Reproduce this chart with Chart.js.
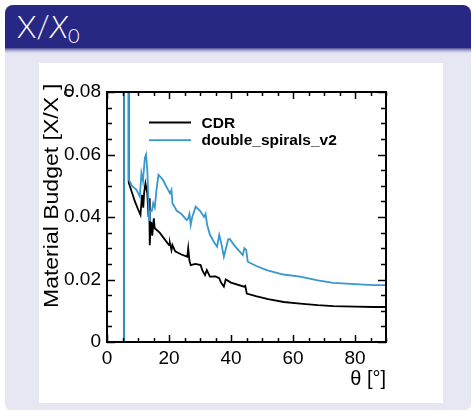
<!DOCTYPE html>
<html lang="en">

<head>
  <meta charset="UTF-8">
  <title>X/X0</title>
  <style>
    html,
    body {
      margin: 0;
      width: 472px;
      height: 411px;
      background: #fff;
      overflow: hidden;
      position: relative;
    }

    #head {
      position: absolute;
      left: 5px;
      top: 5px;
      width: 466px;
      height: 43px;
      background: #272784;
      border-radius: 8px 8px 0 0;
      color: #fff;
      font-family: Lato, "Open Sans", sans-serif;
      font-weight: 300;
      font-size: 31px;
    }

    #head span {
      position: absolute;
      left: 12px;
      top: 2px;
    }

    #head sub {
      font-size: 20px;
      vertical-align: -5px;
    }

    #body {
      position: absolute;
      left: 5px;
      top: 48px;
      width: 466px;
      height: 362px;
      background: linear-gradient(#4d4d98 0px, #9c9cc8 2px, #d4d4ea 4px, #e7e7f3 6px);
      border-radius: 0 0 6px 6px;
    }

    #panel {
      position: absolute;
      left: 39px;
      top: 63px;
      width: 404px;
      height: 340px;
      background: #fff;
    }
  </style>
</head>

<body>
  <div id="head"><span>X/<i>X</i><sub>0</sub></span></div>
  <div id="body"></div>
  <div id="panel"><canvas id="myChart" width="404" height="340"></canvas></div>
  <script src="https://cdnjs.cloudflare.com/ajax/libs/Chart.js/4.4.0/chart.umd.min.js"></script>
  <script>
    const xTicks = [0, 20, 40, 60, 80]
    const yTicks = [0, 0.02, 0.04, 0.06, 0.08]

    // CDR
    const cdrTheta = [5.5, 5.5, 7.0, 7.0, 8.0, 9.0, 10.0, 10.8, 11.3, 11.7, 12.0, 12.4, 13.0, 13.4, 13.6, 13.8, 14.0,
      14.3, 14.6, 15.1, 15.4, 17.0, 18.5, 20.0, 20.3, 20.8, 21.1, 22.0, 24.0, 25.9, 26.2, 26.6, 27.0, 28.5, 30.2, 30.8,
      31.6, 32.2, 33.2, 35.0, 36.2, 36.8, 37.7, 38.3, 40.0, 44.2, 44.6, 45.1, 48, 52, 57, 62.3, 68, 73, 80, 86, 90]
    const cdrValues = [0, 0.3, 0.3, 0.051, 0.048, 0.045, 0.0425, 0.0407, 0.0471, 0.043, 0.048, 0.0508, 0.0476, 0.040,
      0.046, 0.031, 0.036, 0.0385, 0.034, 0.0396, 0.0364, 0.035, 0.033, 0.031, 0.0316, 0.0294, 0.031, 0.029, 0.028,
      0.0273, 0.030, 0.026, 0.0246, 0.025, 0.0246, 0.0228, 0.0214, 0.023, 0.0209, 0.021, 0.0204, 0.019, 0.0177, 0.020,
      0.019, 0.0177, 0.018, 0.0155, 0.0147, 0.0137, 0.0128, 0.0123, 0.0118, 0.0115, 0.0113, 0.0112, 0.0112]

    // double_spirals_v2
    const dsTheta = [5.5, 5.5, 7.0, 7.0, 8.0, 9.5, 10.6, 11.1, 11.6, 12.2, 12.6, 13.0, 13.6, 13.8, 14.5, 14.9, 15.4,
      16.0, 16.6, 18.0, 19.0, 19.7, 20.3, 20.8, 21.1, 22.5, 24.0, 25.7, 26.2, 26.6, 27.0, 27.5, 28.6, 30.0, 31.3, 31.8,
      32.3, 33.2, 34.5, 35.5, 36.2, 37.0, 37.7, 39.1, 39.6, 41.0, 43.8, 44.3, 44.9, 45.4, 48, 51.5, 56.9, 62.3, 68,
      73.0, 80, 86, 90]
    const dsValues = [0, 0.3, 0.3, 0.052, 0.050, 0.0487, 0.0465, 0.054, 0.0514, 0.0589, 0.060, 0.055, 0.039, 0.0417,
      0.042, 0.0444, 0.043, 0.049, 0.0535, 0.052, 0.050, 0.0487, 0.0476, 0.0487, 0.0444, 0.042, 0.041, 0.039, 0.0396,
      0.041, 0.0375, 0.040, 0.0433, 0.042, 0.040, 0.041, 0.0375, 0.0343, 0.032, 0.0305, 0.0343, 0.031, 0.0273, 0.0329,
      0.033, 0.031, 0.0278, 0.030, 0.0295, 0.0257, 0.0244, 0.023, 0.0216, 0.0209, 0.0197, 0.0189, 0.0185, 0.0182,
      0.0182]

    const toPoints = (xs, ys) => xs.map((x, i) => ({ x: x, y: ys[i] }))

    const rootFrame = {
      id: 'rootFrame',
      afterDatasetsDraw(chart) {
        const { ctx, chartArea: a, scales: { x, y } } = chart
        ctx.save()
        ctx.strokeStyle = '#000'
        ctx.lineWidth = 1.5
        const seg = (x1, y1, x2, y2) => {
          ctx.beginPath()
          ctx.moveTo(x1, y1)
          ctx.lineTo(x2, y2)
          ctx.stroke()
        }
        for (let v = 0; v <= 90; v += 5) {
          const px = Math.round(x.getPixelForValue(v)) + 0.5
          const len = v % 20 === 0 ? 7 : 4
          seg(px, a.bottom, px, a.bottom - len)
          seg(px, a.top, px, a.top + len)
        }
        for (let i = 0; i <= 16; i++) {
          const py = Math.round(y.getPixelForValue(i * 0.005)) + 0.5
          const len = i % 4 === 0 ? 8 : 5
          seg(a.left, py, a.left + len, py)
          seg(a.right, py, a.right - len, py)
        }
        ctx.lineWidth = 2
        ctx.strokeRect(a.left, a.top, a.right - a.left, a.bottom - a.top)

        // legend
        ctx.lineWidth = 1.8
        ctx.font = 'bold 15.5px "Liberation Sans", Arial, sans-serif'
        ctx.textBaseline = 'middle'
        chart.data.datasets.forEach((ds, i) => {
          const ly = 59.5 + i * 17.7
          ctx.strokeStyle = ds.borderColor
          seg(110, ly, 152, ly)
          ctx.fillStyle = '#000'
          ctx.fillText(ds.label, 162.5, ly + 1)
        })

        // axis titles
        ctx.fillStyle = '#000'
        ctx.font = '20px "Liberation Sans", Arial, sans-serif'
        ctx.textAlign = 'right'
        ctx.fillText('θ [°]', a.right, 316)

        ctx.save()
        ctx.translate(18.5, 34)
        ctx.rotate(-Math.PI / 2)
        ctx.scale(1.18, 1)
        ctx.textBaseline = 'alphabetic'
        ctx.font = '19.5px "Liberation Sans", Arial, sans-serif'
        ctx.fillText('Material Budget [X/X', 0, 0)
        ctx.textAlign = 'left'
        ctx.font = '13px "Liberation Sans", Arial, sans-serif'
        ctx.fillText('0', 0, 15)
        ctx.font = '19.5px "Liberation Sans", Arial, sans-serif'
        ctx.fillText(']', 6, 0)
        ctx.restore()
        ctx.restore()
      }
    }

    function drawChart() {
      const context = document.querySelector('#myChart').getContext('2d')
      new Chart(context, {
        type: 'line',
        data: {
          datasets: [
            {
              label: 'CDR',
              borderColor: '#000000',
              borderWidth: 1.8,
              pointRadius: 0,
              tension: 0,
              order: 1,
              data: toPoints(cdrTheta, cdrValues)
            },
            {
              label: 'double_spirals_v2',
              borderColor: '#3798d0',
              borderWidth: 1.8,
              pointRadius: 0,
              tension: 0,
              order: 0,
              data: toPoints(dsTheta, dsValues)
            }
          ]
        },
        options: {
          responsive: false,
          animation: false,
          layout: { padding: { top: 29, right: 57, left: 0, bottom: 0 } },
          plugins: { legend: { display: false }, tooltip: { enabled: false } },
          scales: {
            x: {
              type: 'linear',
              min: 0,
              max: 90,
              afterBuildTicks: s => { s.ticks = xTicks.map(v => ({ value: v })) },
              afterFit: s => { s.height = 61 },
              grid: { display: false, drawTicks: false },
              border: { display: false },
              ticks: {
                color: '#000',
                padding: 5,
                maxRotation: 0,
                font: { family: '"Liberation Sans", Arial, sans-serif', size: 19 }
              }
            },
            y: {
              min: 0,
              max: 0.08,
              afterBuildTicks: s => { s.ticks = yTicks.map(v => ({ value: v })) },
              afterFit: s => { s.width = 68 },
              grid: { display: false, drawTicks: false },
              border: { display: false },
              ticks: {
                color: '#000',
                padding: 6,
                font: { family: '"Liberation Sans", Arial, sans-serif', size: 19 },
                callback: v => v === 0 ? '0' : v.toFixed(2)
              }
            }
          }
        },
        plugins: [rootFrame]
      })
    }

    window.onload = drawChart
  </script>
</body>

</html>
